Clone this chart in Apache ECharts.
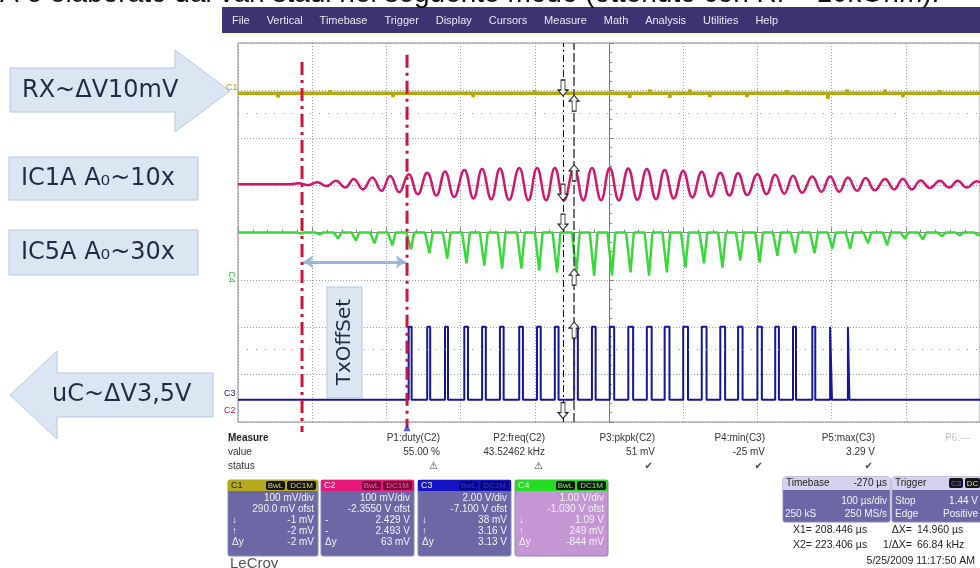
<!DOCTYPE html>
<html><head><meta charset="utf-8">
<script src="https://cdn.jsdelivr.net/npm/echarts/dist/echarts.min.js"></script>
<style>html,body{margin:0;padding:0;background:#fff}#c{width:980px;height:568px}</style>
</head><body><div id="c"></div>
<script>
// ---- axes: time in µs (100 µs/div, 10 div), vertical in screen divisions (-4..4)
const xTicks = [0,100,200,300,400,500,600,700,800,900,1000];
const yTicks = [-4,-3,-2,-1,0,1,2,3,4];

// C1 (RX) – flat noisy trace with spikes
const c1Level = 2.94;
const c1SpikeT = [54,124,209,317,400,528,555,582,609,636,686,740,795,821,872,896,946];
const c1Spike  = [-0.09,0.06,-0.08,-0.08,0.06,-0.1,0.08,-0.1,0.08,-0.08,-0.08,0.06,-0.12,0.08,0.08,-0.08,0.06];

// C2 (IC1A) – burst, peak times and half amplitudes (div)
const c2Center = 1.02;
const c2Half = 12.3;
const c2PeakT = [82,107,132,156,181,205,230,255,279,305,329,353,379,403,427,453,477,501,526,551,575,600,625,650,674,700,724,748,774,798,822,846,872,896,920,946,970,995];
const c2Amp   = [0.02,0.04,0.07,0.11,0.14,0.17,0.21,0.24,0.27,0.30,0.32,0.33,0.34,0.34,0.34,0.34,0.34,0.34,0.33,0.32,0.30,0.28,0.26,0.24,0.23,0.21,0.20,0.18,0.16,0.16,0.14,0.13,0.11,0.11,0.08,0.07,0.07,0.06];

// C4 (IC5A) – downward dips
const c4Base = 0;
const c4DipT  = [85,110,135,159,184,208,233,258,282,308,332,356,382,406,430,456,480,504,529,554,578,603,628,653,677,703,727,751,777,801,825,849,875,899,923,949,973,998];
const c4Depth = [0.02,0.04,0.13,0.17,0.23,0.27,0.36,0.44,0.55,0.65,0.70,0.76,0.76,0.80,0.84,0.84,0.91,0.91,0.84,0.91,0.84,0.74,0.65,0.74,0.59,0.63,0.49,0.44,0.44,0.34,0.34,0.23,0.27,0.13,0.15,0.08,0.06,0.06];

// C3 (uC) – pulses
const c3Low = -3.53, c3High = -1.99;
const c3RiseT = [230,255,279,305,329,353,379,403,427,453,477,501,526,551,575,600,625,650,674,700,724,748,774,798,822];
const c3Width = [4,4,4,5,5,5,5,5,5,5,5,6,6.5,6.5,6.5,6.5,6.5,6.5,6,6,5,4,4,2.5,2];

// cursors
const redCursorT = [86.3, 227.8];
const redCursorTop = [3.6, 3.75];
const redCursorBottom = [-4.21, -4.12];
const blackCursorT = [438, 453];
const cursorDownLevels = [3.05, 0.85, 0.22, -3.76];
const cursorUpLevels = [2.73, 1.26, -0.94, -2.06];
const txArrowLevel = -0.62;
const txArrowT = [88, 226];
const dotRows = [2.52, -2.46];

// texts
const menuItems = ['File','Vertical','Timebase','Trigger','Display','Cursors','Measure','Math','Analysis','Utilities','Help'];
const measNames = ['P1:duty(C2)','P2:freq(C2)','P3:pkpk(C2)','P4:min(C3)','P5:max(C3)'];
const measValues = ['55.00 %','43.52462 kHz','51 mV','-25 mV','3.29 V'];
const measStatus = ['⚠','⚠','✔','✔','✔'];
const chNames = ['C1','C2','C3','C4'];
const chLines = [
 ['100 mV/div','290.0 mV ofst','-1 mV','-2 mV','-2 mV'],
 ['100 mV/div','-2.3550 V ofst','2.429 V','2.493 V','63 mV'],
 ['2.00 V/div','-7.100 V ofst','38 mV','3.16 V','3.13 V'],
 ['1.00 V/div','-1.030 V ofst','1.09 V','249 mV','-844 mV']];
const chMarks = [['↓','↑','Δy'],['-','-','Δy'],['↓','↑','Δy'],['↓','↑','Δy']];

// ---- build series data
const c1Data=[[0,c1Level]];
c1SpikeT.forEach((t,i)=>{c1Data.push([t-0.6,c1Level],[t,c1Level+c1Spike[i]],[t+0.6,c1Level]);});
c1Data.push([1000,c1Level]);

const c2Data=[[0,c2Center],[c2PeakT[0]-12,c2Center]];
c2PeakT.forEach((t,i)=>{c2Data.push([t,c2Center+c2Amp[i]],[t+c2Half,c2Center-c2Amp[i]]);});

const c4Data=[[0,c4Base]];
c4DipT.forEach((t,i)=>{c4Data.push([t-6,c4Base],[t,c4Base-c4Depth[i]],[t+4.5,c4Base]);});
c4Data.push([1000,c4Base]);

const c3Data=[[0,c3Low]];
c3RiseT.forEach((t,i)=>{const w=c3Width[i];c3Data.push([t,c3Low],[t,c3High],[t+w,c3High],[t+w,c3Low]);});
c3Data.push([1000,c3Low]);

// ---- graphics helpers
const FONT='Liberation Sans, Arial, sans-serif';
function T(x,y,s,o){o=o||{};return {type:'text',x:x,y:y,z:o.z||20,rotation:o.rot||0,silent:true,style:{text:s,fill:o.fill||'#333',font:(o.w||'normal')+' '+(o.size||10)+'px '+(o.fam||FONT),align:o.al||'left',textAlign:o.al||'left',verticalAlign:o.va||'middle',textVerticalAlign:o.va||'middle'}};}
function R(x,y,w,h,fill,stroke,r){return {type:'rect',z:15,silent:true,shape:{x:x,y:y,width:w,height:h,r:r||0},style:{fill:fill,stroke:stroke||null,lineWidth:1}};}
const AFILL='#dce6f2', ASTROKE='#b3c8e2', AFONT='DejaVu Sans, Verdana, sans-serif', ACOL='#1f2c44';

const g=[];
// top sentence (cut off)
g.push(T(0,-5.5,'A è elaborato dai vari stadi nel seguente modo (ottenuto con Rf = 10kOhm).',{size:28,fill:'#111'}));
// menu bar
g.push(R(222,7,758,26,'#3c3470'));
(function(){
  const cv=document.createElement('canvas').getContext('2d');
  cv.font='11px Liberation Sans';
  const ws=menuItems.map(m=>cv.measureText(m).width);
  const total=ws.reduce((a,b)=>a+b,0);
  const gap=(778-232-total)/(menuItems.length-1);
  let x=232;
  menuItems.forEach((m,i)=>{g.push(T(x,21,m,{size:11,fill:'#e8e8f2'}));x+=ws[i]+gap;});
})();
// left annotations
g.push({type:'polygon',z:15,silent:true,shape:{points:[[10,68],[175,68],[175,50],[230,91],[175,132],[175,112],[10,112]]},style:{fill:AFILL,stroke:ASTROKE,lineWidth:1}});
g.push(T(22,91,'RX~ΔV10mV',{size:24,fam:AFONT,fill:ACOL}));
g.push(R(9,157,189,43,AFILL,ASTROKE));
g.push(T(21,179,'IC1A A₀~10x',{size:24,fam:AFONT,fill:ACOL}));
g.push(R(9,230,189,45,AFILL,ASTROKE));
g.push(T(21,253,'IC5A A₀~30x',{size:24,fam:AFONT,fill:ACOL}));
g.push({type:'polygon',z:15,silent:true,shape:{points:[[10,395],[57,351],[57,373],[213,373],[213,417],[57,417],[57,439]]},style:{fill:AFILL,stroke:ASTROKE,lineWidth:1}});
g.push(T(52,395,'uC~ΔV3,5V',{size:24,fam:AFONT,fill:ACOL}));
// TxOffSet box
g.push(R(327,287,35,111,AFILL,ASTROKE));
g.push(T(345,342,'TxOffSet',{size:20,fam:AFONT,fill:ACOL,al:'center',rot:Math.PI/2}));
// channel labels at left edge
g.push(T(226,88,'C1',{size:9,fill:'#a89e10'}));
g.push(T(231,277,'C4',{size:9,fill:'#33bb33',rot:-Math.PI/2,al:'center'}));
g.push(T(224,394,'C3',{size:9,fill:'#1a1a70'}));
g.push(T(224,411,'C2',{size:9,fill:'#c01060'}));
// measure table
g.push(T(228,438,'Measure',{w:'bold',size:10,fill:'#222'}));
g.push(T(228,452,'value',{size:10,fill:'#333'}));
g.push(T(228,466,'status',{size:10,fill:'#333'}));
const measX=[440,545,655,765,875];
measNames.forEach((n,i)=>{
  g.push(T(measX[i],438,n,{size:10,al:'right',fill:'#333'}));
  g.push(T(measX[i],452,measValues[i],{size:10,al:'right',fill:'#333'}));
  g.push(T(measX[i]-2,466,measStatus[i],{size:10,al:'right',fill:'#444',fam:'DejaVu Sans'}));
});
g.push(T(945,438,'P6:---',{size:10,fill:'#c4c4c4'}));
// channel boxes
const chX=[228,321,418,515], chW=[90,93,93,93];
const chHead=['#b5aa1c','#e4197b','#1414c4','#22dd22'];
const chBody=['#6c68a6','#6c68a6','#6c68a6','#c497d4'];
const chBadge=['#151515','#7a0a3a','#0a0a80','#151515'];
const chBadgeTxt=['#d8d070','#ff5aa0','#3030e0','#60ff60'];
chNames.forEach((n,i)=>{
  const x=chX[i],w=chW[i];
  g.push(R(x,480,w,76,chBody[i],'#8a86b8',2));
  g.push(R(x,480,w,11,chHead[i]));
  g.push(T(x+3,485.5,n,{size:9,fill:i==0?'#222':'#eee'}));
  g.push(R(x+w-52,481,19,9,chBadge[i],null,2));
  g.push(T(x+w-42.5,485.5,'BwL',{size:8,al:'center',fill:chBadgeTxt[i]}));
  g.push(R(x+w-31,481,29,9,chBadge[i],null,2));
  g.push(T(x+w-16.5,485.5,'DC1M',{size:8,al:'center',fill:chBadgeTxt[i]}));
  const ys=[498,509,520,531,542.5];
  chLines[i].forEach((s,j)=>g.push(T(x+w-4,ys[j],s,{size:10,al:'right',fill:'#f2f2f2'})));
  chMarks[i].forEach((s,j)=>g.push(T(x+4,ys[j+2],s,{size:10,fill:'#f2f2f2'})));
});
// timebase / trigger
g.push(R(783,477,107,45,'#6c68a6','#8a86b8',2));
g.push(R(783,477,107,13,'#d6d2ee'));
g.push(T(786,483.5,'Timebase',{size:10,fill:'#222'}));
g.push(T(887,483.5,'-270 µs',{size:10,al:'right',fill:'#222'}));
g.push(T(887,501,'100 µs/div',{size:10,al:'right',fill:'#f2f2f2'}));
g.push(T(785,514,'250 kS',{size:10,fill:'#f2f2f2'}));
g.push(T(887,514,'250 MS/s',{size:10,al:'right',fill:'#f2f2f2'}));
g.push(R(892,477,90,45,'#6c68a6','#8a86b8',2));
g.push(R(892,477,90,13,'#d6d2ee'));
g.push(T(895,483.5,'Trigger',{size:10,fill:'#222'}));
g.push(R(949,478,14,10,'#151515',null,2));g.push(T(956,483.5,'C3',{size:8,al:'center',fill:'#6060ff'}));
g.push(R(965,478,15,10,'#151515',null,2));g.push(T(972.5,483.5,'DC',{size:8,al:'center',fill:'#ddd'}));
g.push(T(895,501,'Stop',{size:10,fill:'#f2f2f2'}));
g.push(T(978,501,'1.44 V',{size:10,al:'right',fill:'#f2f2f2'}));
g.push(T(895,514,'Edge',{size:10,fill:'#f2f2f2'}));
g.push(T(978,514,'Positive',{size:10,al:'right',fill:'#f2f2f2'}));
// cursor readout
g.push(T(793,530,'X1=',{size:10.5,fill:'#222'}));
g.push(T(815,530,'208.446 µs',{size:10.5,fill:'#222'}));
g.push(T(912,530,'ΔX=',{size:10.5,al:'right',fill:'#222'}));
g.push(T(917,530,'14.960 µs',{size:10.5,fill:'#222'}));
g.push(T(793,545,'X2=',{size:10.5,fill:'#222'}));
g.push(T(815,545,'223.406 µs',{size:10.5,fill:'#222'}));
g.push(T(912,545,'1/ΔX=',{size:10.5,al:'right',fill:'#222'}));
g.push(T(917,545,'66.84 kHz',{size:10.5,fill:'#222'}));
g.push(T(975,561,'5/25/2009 11:17:50 AM',{size:10.5,al:'right',fill:'#222'}));
g.push(T(230,564,'LeCroy',{size:15,fill:'#555'}));

const arrowUp='path://M5,0L10,6L7,6L7,16L3,16L3,6L0,6Z';

const option={
  animation:false,
  backgroundColor:'#fff',
  grid:{left:238,top:43,width:742,height:379,show:true,borderColor:'#8c8c8c',borderWidth:1,backgroundColor:'#fff'},
  xAxis:[
    {type:'value',min:xTicks[0],max:xTicks[xTicks.length-1],interval:100,axisLine:{show:false},axisTick:{show:false},axisLabel:{show:false},
     splitLine:{show:true,lineStyle:{color:'#9a9a9a',type:[1,2],width:1}}},
    {type:'value',min:0,max:1000,interval:100,position:'bottom',offset:-189.5,axisLine:{show:true,lineStyle:{color:'#888'}},
     axisTick:{show:true,inside:true,length:5,lineStyle:{color:'#888'}},minorTick:{show:true,splitNumber:5,length:3,lineStyle:{color:'#888'}},axisLabel:{show:false},splitLine:{show:false}}
  ],
  yAxis:[
    {type:'value',min:yTicks[0],max:yTicks[yTicks.length-1],interval:1,axisLine:{show:false},axisTick:{show:false},axisLabel:{show:false},
     splitLine:{show:true,lineStyle:{color:'#9a9a9a',type:[1,2],width:1}}},
    {type:'value',min:-4,max:4,interval:1,position:'left',offset:-371,axisLine:{show:true,lineStyle:{color:'#777'}},
     axisTick:{show:true,inside:true,length:5,lineStyle:{color:'#888'}},minorTick:{show:true,splitNumber:5,length:3,lineStyle:{color:'#888'}},axisLabel:{show:false},splitLine:{show:false}}
  ],
  graphic:g,
  series:[
    {type:'line',name:'C1',data:c1Data,symbol:'none',lineStyle:{color:'#b4a914',width:3.5},z:3,
     markLine:{silent:true,symbol:'none',label:{show:false},animation:false,
       data:[
         {xAxis:blackCursorT[0],lineStyle:{type:[7,3,2,3],color:'#111',width:1}},
         {xAxis:blackCursorT[1],lineStyle:{type:[9,3],color:'#444',width:1.5}},
         {yAxis:dotRows[0],lineStyle:{type:[1,8],color:'#999',width:1}},
         {yAxis:dotRows[1],lineStyle:{type:[1,8],color:'#999',width:1}},
         [{coord:[txArrowT[0],txArrowLevel],symbol:'arrow',symbolSize:10},{coord:[txArrowT[1],txArrowLevel],symbol:'arrow',symbolSize:10,lineStyle:{color:'#9bb7d9',width:3,type:'solid'}}]
       ]}},
    {type:'line',name:'C2',data:c2Data,symbol:'none',smooth:0.45,lineStyle:{color:'#d1166f',width:2.5},z:3},
    {type:'line',name:'C4',data:c4Data,symbol:'none',lineStyle:{color:'#3ad83a',width:2.5},z:3},
    {type:'line',name:'C3',data:c3Data,symbol:'none',lineStyle:{color:'#16169a',width:2},z:3},
    {type:'line',name:'red1',data:[[redCursorT[0],redCursorTop[0]],[redCursorT[0],redCursorBottom[0]]],symbol:'none',clip:false,z:6,
     lineStyle:{color:'#c8163f',width:3,type:[13,5,3,5]}},
    {type:'line',name:'red2',data:[[redCursorT[1],redCursorTop[1]],[redCursorT[1],redCursorBottom[1]]],symbol:'none',clip:false,z:6,
     lineStyle:{color:'#c8163f',width:3,type:[13,5,3,5]}},
    {type:'scatter',name:'up',data:cursorUpLevels.map(v=>[blackCursorT[1],v]),symbol:arrowUp,symbolSize:[10,16],z:7,
     itemStyle:{color:'#fff',borderColor:'#222',borderWidth:1,opacity:1}},
    {type:'scatter',name:'down',data:cursorDownLevels.map(v=>[blackCursorT[0],v]),symbol:arrowUp,symbolRotate:180,symbolSize:[10,16],z:7,
     itemStyle:{color:'#fff',borderColor:'#222',borderWidth:1,opacity:1}},
    {type:'scatter',name:'trig',data:[[redCursorT[1],-4.12]],symbol:'triangle',symbolSize:7,clip:false,z:7,itemStyle:{color:'#2a2ad0'}}
  ]
};
const chart=echarts.init(document.getElementById('c'),null,{renderer:'canvas'});
chart.setOption(option);
</script></body></html>
